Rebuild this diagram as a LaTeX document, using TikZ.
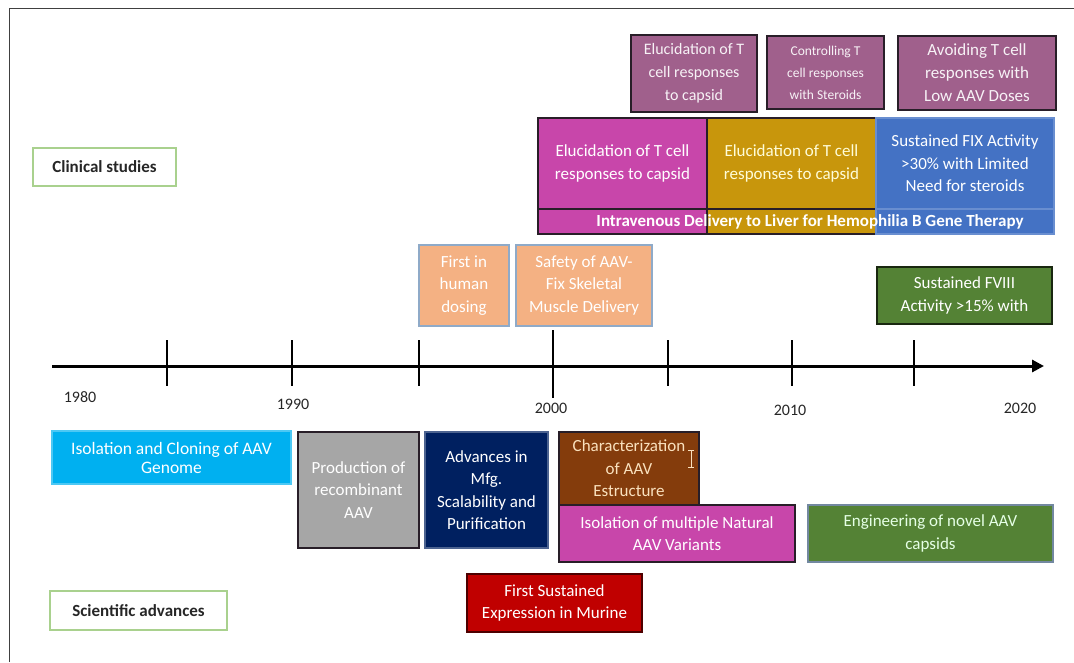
\documentclass[tikz,border=0pt]{standalone}
\usepackage{fontspec}
\setmainfont{Carlito}
\usetikzlibrary{arrows.meta}
\definecolor{mauve}{RGB}{160,96,140}
\definecolor{magA}{RGB}{200,70,170}
\definecolor{goldA}{RGB}{200,150,12}
\definecolor{blueA}{RGB}{68,114,196}
\definecolor{salmon}{RGB}{244,177,131}
\definecolor{salmonB}{RGB}{143,170,200}
\definecolor{oliveA}{RGB}{84,130,53}
\definecolor{cyanA}{RGB}{0,176,240}
\definecolor{grayA}{RGB}{166,166,166}
\definecolor{navyA}{RGB}{0,32,96}
\definecolor{brownA}{RGB}{132,60,12}
\definecolor{redA}{RGB}{192,0,0}
\definecolor{darkB}{RGB}{40,30,40}
\definecolor{lgreen}{RGB}{169,209,142}
\definecolor{cream}{RGB}{250,225,190}
\begin{document}
\begin{tikzpicture}[x=1pt,y=-1pt,
  box/.style={draw=darkB, line width=1.2pt, inner sep=0pt, outer sep=0pt, anchor=north west,
    align=center, font=\fontsize{17}{22.5}\selectfont, text=white},
  wh/.style 2 args={minimum width=#1pt, minimum height=#2pt},
  label/.style={draw=lgreen, line width=1.2pt, inner sep=0pt, outer sep=0pt, anchor=north west,
    font=\fontsize{17}{19}\bfseries\selectfont, text=black!85},
  year/.style={font=\fontsize{16}{18}\selectfont, text=black!85},
  tick/.style={line width=1.8pt}]
\useasboundingbox (0,0) rectangle (1074,662);
\draw[line width=1pt, black!75] (9.5,662) -- (9.5,8) -- (1074,8);

% clinical studies - top row
\node[box, fill=mauve, wh={126}{77}, text=white!92!mauve, font=\fontsize{16}{23}\selectfont] (b1) at (631,35) {Elucidation of T\\cell responses\\to capsid};
\node[box, fill=mauve, wh={117}{73}, text=white!92!mauve, font=\fontsize{13.5}{22}\selectfont] (b2) at (767,36) {Controlling T\\cell responses\\with Steroids};
\node[box, fill=mauve, wh={158}{74}, text=white!92!mauve, font=\fontsize{17}{23}\selectfont] (b3) at (898,36) {Avoiding T cell\\responses with\\Low AAV Doses};

% clinical studies - main row
\node[box, fill=magA, wh={169}{91}] (m1) at (538,118) {Elucidation of T cell\\responses to capsid};
\node[box, fill=goldA, wh={169}{91}, text=white!85!yellow] (g1) at (707,118) {Elucidation of T cell\\responses to capsid};
\node[box, fill=blueA, draw=blueA!80!white, wh={178}{91}] (bl) at (876,118) {Sustained FIX Activity\\>30\% with Limited\\Need for steroids};
\node[box, fill=magA, wh={169}{25}] (bandm) at (538,209) {};
\node[box, fill=goldA, wh={169}{25}] (bandg) at (707,209) {};
\node[box, fill=blueA, draw=blueA!80!white, wh={178}{25}] (bandb) at (876,209) {};
\node[font=\fontsize{17}{19}\bfseries\selectfont, text=white, inner sep=0pt] (band) at (810,222) {Intravenous Delivery to Liver for Hemophilia B Gene Therapy};

% orange boxes
\node[box, fill=salmon, draw=salmonB, wh={90}{81}] (o1) at (419,245) {First in\\human\\dosing};
\node[box, fill=salmon, draw=salmonB, wh={136}{81}] (o2) at (516,245) {Safety of AAV-\\Fix Skeletal\\Muscle Delivery};
\node[box, fill=oliveA, draw=black!70!oliveA, wh={175}{57}] (f8) at (877,267) {Sustained FVIII\\Activity >15\% with};

% label boxes
\node[label, wh={143}{38}] (clin) at (33,148) {Clinical studies};
\node[label, wh={177}{39}] (sci) at (50,591) {Scientific advances};

% timeline
\coordinate (t0) at (52,366);
\coordinate (t1) at (1044,366);
\draw[line width=3pt, -{Triangle[length=12pt,width=12pt]}] (t0) -- (t1);
\foreach \x in {167,292,419,668,792,914} \draw[tick] (\x,340) -- (\x,386);
\draw[tick] (553,330) -- (553,398);
\node[year] (y1980) at (80,397) {1980};
\node[year] (y1990) at (293,404) {1990};
\node[year] (y2000) at (551,408) {2000};
\node[year] (y2010) at (790,410) {2010};
\node[year] (y2020) at (1020,408) {2020};

% scientific advances
\node[box, fill=cyanA, draw=cyanA!70!white, wh={239}{53}, font=\fontsize{17.5}{19}\selectfont] (s1) at (52,431) {Isolation and Cloning of AAV\\Genome};
\node[box, fill=grayA, wh={121}{116}] (s2) at (298,432) {Production of\\recombinant\\AAV};
\node[box, fill=navyA, draw=navyA!70!white, wh={123}{116}] (s3) at (425,432) {Advances in\\Mfg.\\Scalability and\\Purification};
\node[box, fill=brownA, wh={140}{73}, text=cream] (s4) at (559,432) {Characterization\\of AAV\\Estructure};
\node[box, fill=magA, wh={236}{57}] (s5) at (559,505) {Isolation of multiple Natural\\AAV Variants};
\node[box, fill=oliveA, draw=salmonB!80!black, wh={245}{57}, text=white!90!green] (s6) at (808,505) {Engineering of novel AAV\\capsids};
\node[box, fill=redA, draw=black!60!redA, wh={175}{58}] (s7) at (467,574) {First Sustained\\Expression in Murine};

% cursor artefact
\draw[cream, line width=1pt] (691,450) -- (691,467) (688,450) -- (694,450) (688,467) -- (694,467);
\end{tikzpicture}
\end{document}
